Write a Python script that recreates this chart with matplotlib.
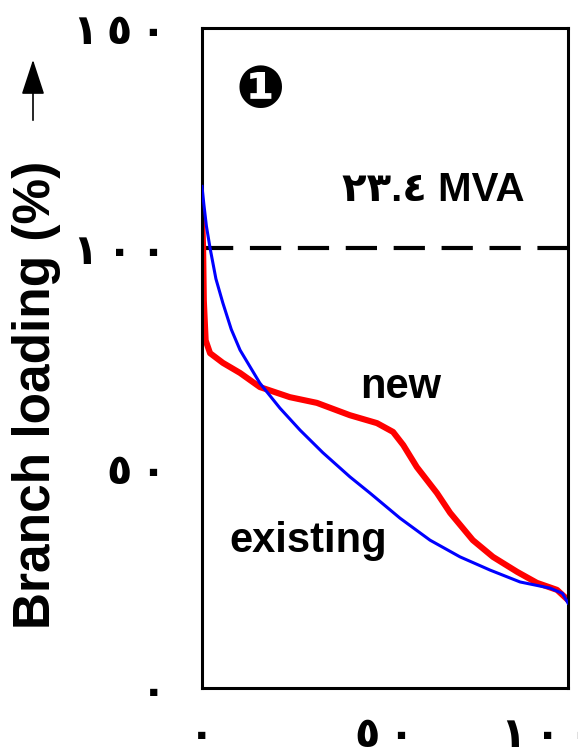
import matplotlib.pyplot as plt
from matplotlib.transforms import ScaledTranslation

# values (x: % of time, y: branch loading %)
existing_x = [0, 0.5, 1.2, 2.2, 3.8, 5.7, 8.0, 10.4, 15.8, 21.3, 26.8, 33.0, 40.4,
              45.9, 54.1, 62.3, 70.5, 78.7, 86.9, 95.1, 98.5, 100]
existing_y = [114, 110, 105, 100, 93, 87.5, 81.5, 76.8, 69.3, 63.6, 58.6, 53.5, 48.0,
              44.3, 38.6, 33.6, 29.8, 26.8, 24.1, 22.7, 21.5, 19.3]

new_x = [0, 0.3, 0.5, 1.0, 2.2, 5.7, 10.4, 15.8, 24.0, 31.4, 40.4, 47.8, 52.2,
         55.0, 58.7, 64.2, 67.8, 74.0, 79.5, 86.1, 91.5, 97.0, 100]
new_y = [108, 100, 88, 79, 76.1, 73.9, 71.6, 68.4, 66.1, 64.8, 62.0, 60.2, 58.2,
         55.2, 50.2, 44.3, 39.8, 33.6, 29.8, 26.4, 23.9, 22.3, 20.0]

limit = 100
yticks = [0, 50, 100, 150]
ytick_labels = ['٠', '٥\u2009٠', '١\u2009٠\u2009٠', '١\u2009٥\u2009٠']
xticks = [0, 50, 100]
xtick_labels = ['٠', '٥\u2009٠', '١\u2009٠\u2009٠']

plt.rcParams['font.family'] = ['Liberation Sans', 'DejaVu Sans']
plt.rcParams['font.weight'] = 'bold'

fig = plt.figure(figsize=(5.78, 7.54), dpi=100)
ax = fig.add_axes([202 / 578, 66 / 754, 366 / 578, 660 / 754])

ax.plot(existing_x, existing_y, color='#0000ff', lw=2.2, zorder=3)
ax.plot(new_x, new_y, color='#ff0000', lw=4.4, zorder=2)
ax.axhline(limit, color='black', lw=3, dashes=(7.5, 4), dash_capstyle='butt', zorder=1)

ax.set_xlim(0, 100)
ax.set_ylim(0, 150)
ax.set_yticks(yticks)
ax.set_yticklabels(ytick_labels, fontsize=30, family=['DejaVu Sans'], fontweight='bold')
ax.set_xticks(xticks)
ax.set_xticklabels(xtick_labels, fontsize=30, family=['DejaVu Sans'], fontweight='bold')
ax.tick_params(length=0)
ax.tick_params(axis='y', pad=26)
ax.tick_params(axis='x', pad=19)
# last x label sits a bit left of its tick in the original
lbl = ax.get_xticklabels()[-1]
lbl.set_transform(lbl.get_transform() + ScaledTranslation(-0.2, 0, fig.dpi_scale_trans))
for s in ax.spines.values():
    s.set_linewidth(2.2)

ax.text(0.16, 0.905, '❶', transform=ax.transAxes, fontsize=42,
        family=['DejaVu Sans'], ha='center', va='center')
ax.text(0.882, 0.755, '٢٣.٤ MVA', transform=ax.transAxes, fontsize=29,
        ha='right', va='center')
ax.text(54.4, 68.4, 'new', fontsize=30, ha='center', va='center')
ax.text(29, 33.4, 'existing', fontsize=30, ha='center', va='center')

fig.text(0.064, 0.476, 'Branch loading (%)', rotation=90, fontsize=37,
         ha='center', va='center')
# arrow pointing up, above the label
ax.annotate('', xy=(33 / 578, 1 - 57 / 754), xytext=(33 / 578, 1 - 123 / 754),
            xycoords='figure fraction', textcoords='figure fraction',
            arrowprops=dict(arrowstyle='-|>,head_length=1.1,head_width=0.36',
                            mutation_scale=20, color='black', lw=1.2))

fig.savefig('out.png', dpi=100)
